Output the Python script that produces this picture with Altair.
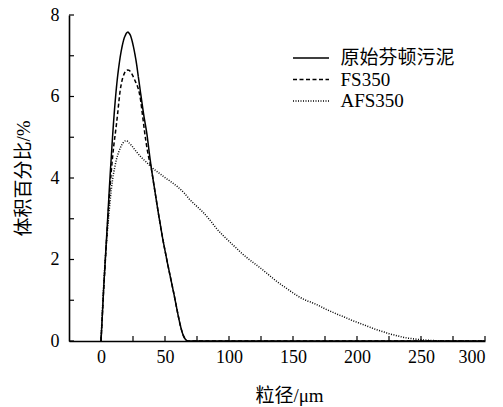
import altair as alt
import pandas as pd

# ---- data ----
series_names = ["原始芬顿污泥", "FS350", "AFS350"]

raw_x = list(range(0, 69)) + [300]
raw_y = [0, 0.6, 1.25, 1.8, 2.35, 2.9, 3.45, 4.0, 4.5, 5.0,
         5.45, 5.85, 6.2, 6.5, 6.75, 6.97, 7.15, 7.3, 7.42, 7.5,
         7.56, 7.58, 7.55, 7.5, 7.4, 7.27, 7.12, 6.95, 6.75, 6.52,
         6.3, 6.07, 5.85, 5.63, 5.43, 5.25, 5.05, 4.8, 4.55, 4.32,
         4.1, 3.9, 3.7, 3.5, 3.3, 3.1, 2.92, 2.73, 2.55, 2.38,
         2.22, 2.06, 1.9, 1.75, 1.6, 1.45, 1.3, 1.15, 0.99, 0.83,
         0.67, 0.52, 0.38, 0.26, 0.16, 0.09, 0.04, 0.01, 0, 0]

fs_x = list(range(0, 69)) + [300]
fs_y = [0, 0.6, 1.2, 1.75, 2.3, 2.8, 3.3, 3.75, 4.15, 4.5,
        4.8, 5.05, 5.3, 5.58, 5.88, 6.15, 6.33, 6.46, 6.55, 6.61,
        6.64, 6.65, 6.64, 6.61, 6.56, 6.5, 6.43, 6.36, 6.29, 6.2,
        6.08, 5.9, 5.65, 5.4, 5.15, 4.92, 4.72, 4.55, 4.4, 4.28,
        4.1, 3.9, 3.7, 3.5, 3.3, 3.1, 2.92, 2.73, 2.55, 2.38,
        2.22, 2.06, 1.9, 1.75, 1.6, 1.45, 1.3, 1.15, 0.99, 0.83,
        0.67, 0.52, 0.38, 0.26, 0.16, 0.09, 0.04, 0.01, 0, 0]

afs_x = list(range(0, 21)) + list(range(22, 41, 2)) + list(range(45, 301, 5))
afs_y = [0, 0.7, 1.3, 1.85, 2.3, 2.7, 3.05, 3.4, 3.7, 3.95,
         4.15, 4.3, 4.45, 4.56, 4.65, 4.73, 4.8, 4.85, 4.89, 4.91,
         4.91,
         4.86, 4.79, 4.71, 4.63, 4.56, 4.49, 4.43, 4.37, 4.31, 4.25,
         4.13, 4.01, 3.9, 3.78, 3.63, 3.45, 3.3, 3.15, 2.97, 2.77,
         2.6, 2.45, 2.3, 2.15, 2.02, 1.9, 1.78, 1.65, 1.52, 1.4,
         1.29, 1.18, 1.08, 1.0, 0.94, 0.87, 0.79, 0.72, 0.65, 0.59,
         0.52, 0.46, 0.4, 0.34, 0.28, 0.23, 0.18, 0.14, 0.1, 0.07,
         0.05, 0.03, 0.02, 0.01, 0.005, 0, 0, 0, 0, 0,
         0, 0]

x_tick_values = list(range(0, 301, 25))
x_label_values = list(range(0, 301, 50))
y_tick_values = list(range(0, 9))
y_label_values = list(range(0, 9, 2))

# ---- build table ----
rows = []
for name, xs, ys in [(series_names[0], raw_x, raw_y),
                     (series_names[1], fs_x, fs_y),
                     (series_names[2], afs_x, afs_y)]:
    for i, (a, b) in enumerate(zip(xs, ys)):
        rows.append({"series": name, "x": a, "y": b, "order": i})
df = pd.DataFrame(rows)

W, H = 416, 326
FONT = "Liberation Serif, Times New Roman, Noto Sans CJK SC"

xscale = alt.Scale(domain=[-25, 300], nice=False, zero=False)
yscale = alt.Scale(domain=[0, 8], nice=False)

common_axis = dict(
    ticks=False, grid=False, domainColor="black", domainWidth=1.6,
    labelFont=FONT, titleFont=FONT, labelFontSize=18, titleFontSize=19,
    labelColor="black", titleColor="black", titleFontWeight="normal",
)
xaxis = alt.Axis(title="粒径/μm", values=x_label_values,
                 labelPadding=7, titleX=220, titleY=54, titleBaseline="middle",
                 **common_axis)
yaxis = alt.Axis(title="体积百分比/%", values=y_label_values,
                 labelPadding=10, titleX=-46, titleY=163, titleAngle=270,
                 titleAlign="center", titleBaseline="middle", **common_axis)

lines = alt.Chart(df).mark_line(interpolate="monotone", color="black", strokeWidth=1.5).encode(
    x=alt.X("x:Q", scale=xscale, axis=xaxis, title="粒径/μm"),
    y=alt.Y("y:Q", scale=yscale, axis=yaxis, title="体积百分比/%"),
    strokeDash=alt.StrokeDash(
        "series:N",
        scale=alt.Scale(domain=series_names, range=[[1, 0], [4, 2.5], [1, 1.5]]),
        sort=series_names,
        legend=alt.Legend(
            title=None, orient="none", legendX=232.5, legendY=33.5,
            symbolType="M-3,0H3", symbolSize=144, symbolStrokeWidth=1.5,
            symbolStrokeColor="black", labelOffset=20, rowPadding=1.5,
            labelFontSize=19, labelFont=FONT, labelColor="black", padding=0,
            labelLimit=300,
        ),
    ),
    detail="series:N",
    order="order:Q",
)

xt = alt.Chart(pd.DataFrame({"v": x_tick_values})).mark_rule(color="black", strokeWidth=1.2).encode(
    x=alt.X("v:Q", scale=xscale, axis=xaxis, title="粒径/μm"),
    y=alt.value(H), y2=alt.value(H - 5))
yt = alt.Chart(pd.DataFrame({"v": y_tick_values})).mark_rule(color="black", strokeWidth=1.2).encode(
    y=alt.Y("v:Q", scale=yscale, axis=yaxis, title="体积百分比/%"),
    x=alt.value(0), x2=alt.value(5))

chart = alt.layer(lines, xt, yt).properties(
    width=W, height=H,
    autosize=alt.AutoSizeParams(type="none"),
    padding={"left": 69, "top": 15, "right": 18, "bottom": 66},
    background="white",
).configure_view(stroke=None)

chart.save("out.html", embed_options={"renderer": "svg", "actions": False})
